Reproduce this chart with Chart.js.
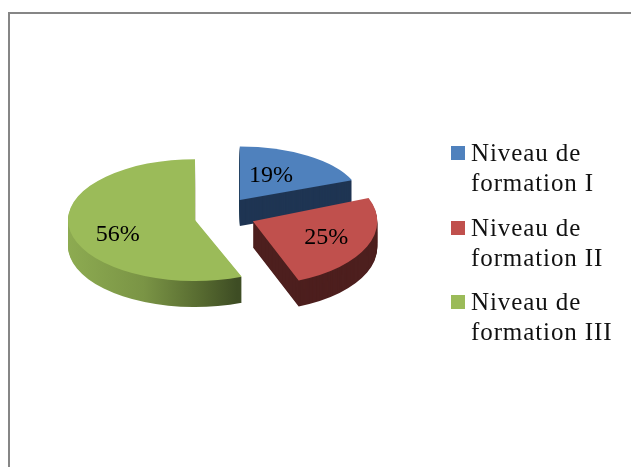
<!DOCTYPE html>
<html>
<head>
<meta charset="utf-8">
<script src="https://cdn.jsdelivr.net/npm/chart.js@4"></script>
<style>
html, body { margin: 0; padding: 0; background: #fff; overflow: hidden; }
#frame { position: absolute; left: 8px; top: 12px; width: 623px; height: 455px; border-left: 2px solid #868686; border-top: 2px solid #868686; box-sizing: border-box; }
canvas { position: absolute; left: 0; top: 0; }
</style>
</head>
<body>
<div id="frame"></div>
<canvas id="pie" width="631" height="467"></canvas>
<script>
var categories = [['Niveau de', 'formation I'], ['Niveau de', 'formation II'], ['Niveau de', 'formation III']];
var values = [19, 25, 56];
var percentLabels = ['19%', '25%', '56%'];

var topColors = ['#4f81bd', '#c0504d', '#9bbb59'];
var wallColors = ['#1f3553', '#4d1f1e', null];

// the offset option also changes the slice radius, so slices are pulled out by hand
var explode = [29, 32, 29];
var pieRadius = 127;

// fake 3d: every slice gets squashed on its own because the far side of the
// original is flatter than the near side
var squash = [0.42, 0.5, 0.48];
var stretch = [0.95, 0.98, 1];
var pivotY = [210, 215, 217.5];
var pivotX = 223.5;
var depth = 26;
var labelNudge = [[-4.5, -2], [15, 4], [-15, 9]];

function midAngle(arc) {
  return (arc.startAngle + arc.endAngle) / 2;
}

function shiftX(arc, i) {
  return pivotX - arc.x + Math.cos(midAngle(arc)) * explode[i];
}

function sliceTransform(ctx, arc, i, down) {
  ctx.translate(shiftX(arc, i) + arc.x, pivotY[i] + down + Math.sin(midAngle(arc)) * explode[i] * squash[i]);
  ctx.transform(stretch[i], 0, 0, squash[i], 0, 0);
  ctx.translate(-arc.x, -arc.y);
}

var fake3d = {
  id: 'fake3d',
  beforeDatasetDraw: function (chart) {
    var ctx = chart.ctx;
    var arcs = chart.getDatasetMeta(0).data;

    var shift = shiftX(arcs[2], 2);
    var greenWall = ctx.createLinearGradient(68 - shift, 0, 237 - shift, 0);
    greenWall.addColorStop(0, '#8dab51');
    greenWall.addColorStop(0.45, '#7a9445');
    greenWall.addColorStop(0.8, '#55682f');
    greenWall.addColorStop(1, '#3e4d24');

    // walls first, a stack of darker copies of each slice
    arcs.forEach(function (arc, i) {
      var opts = arc.options;
      var wall = Object.create(opts);
      wall.backgroundColor = wallColors[i] || greenWall;
      wall.borderWidth = 0;
      arc.options = wall;
      for (var d = depth; d > 0; d--) {
        ctx.save();
        sliceTransform(ctx, arc, i, d);
        arc.draw(ctx);
        ctx.restore();
      }
      arc.options = opts;
    });

    arcs.forEach(function (arc, i) {
      ctx.save();
      sliceTransform(ctx, arc, i, 0);
      arc.draw(ctx);
      ctx.restore();
    });

    ctx.save();
    ctx.font = '24px "Liberation Serif"';
    ctx.fillStyle = '#000';
    ctx.textAlign = 'center';
    ctx.textBaseline = 'middle';
    arcs.forEach(function (arc, i) {
      var mid = midAngle(arc);
      var r = explode[i] + pieRadius / 2;
      var x = pivotX + Math.cos(mid) * r + labelNudge[i][0];
      var y = pivotY[i] + Math.sin(mid) * r * squash[i] + labelNudge[i][1];
      ctx.fillText(percentLabels[i], x, y);
    });
    ctx.restore();
    return false;
  },
  afterDraw: function (chart) {
    // legend by hand, the built in one can't get the box/text gap right
    var ctx = chart.ctx;
    ctx.save();
    ctx.font = '25px "Liberation Serif"';
    ctx.letterSpacing = '0.9px';
    ctx.textAlign = 'left';
    ctx.textBaseline = 'alphabetic';
    categories.forEach(function (lines, i) {
      var y = 146 + i * 74.5;
      ctx.fillStyle = topColors[i];
      ctx.fillRect(451, Math.round(y), 14, 14);
      ctx.fillStyle = '#111';
      lines.forEach(function (line, j) {
        ctx.fillText(line, 471, Math.round(y + 15 + j * 30));
      });
    });
    ctx.restore();
  }
};

var ctx = document.getElementById('pie').getContext('2d');
var pieChart = new Chart(ctx, {
  type: 'pie',
  data: {
    labels: categories,
    datasets: [{
      data: values,
      backgroundColor: topColors,
      borderWidth: 0,
      clip: false
    }]
  },
  options: {
    responsive: false,
    animation: false,
    radius: pieRadius,
    plugins: {
      tooltip: { enabled: false },
      legend: { display: false }
    }
  },
  plugins: [fake3d]
});
</script>
</body>
</html>
